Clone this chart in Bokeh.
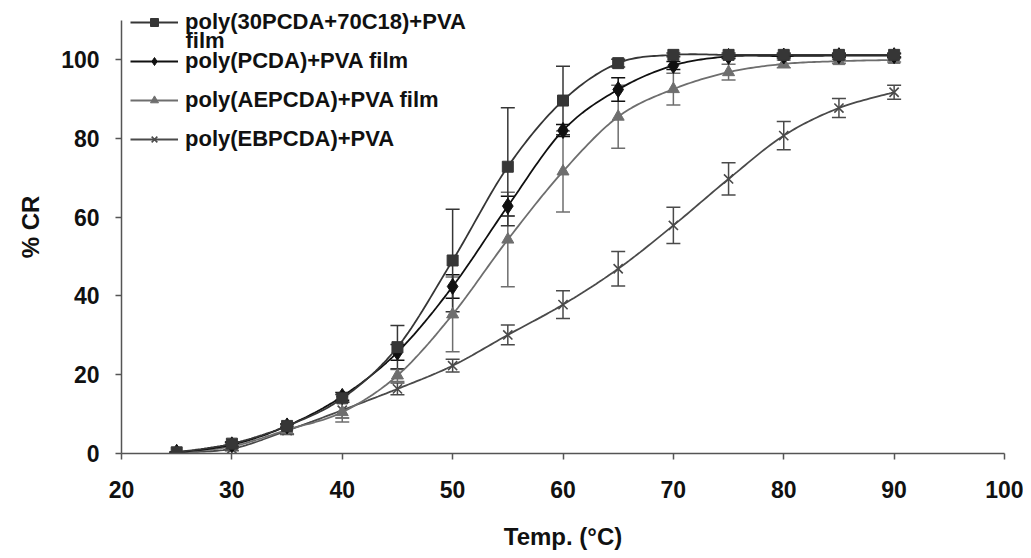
from bokeh.plotting import figure
from bokeh.models import (Range1d, FixedTicker, ColumnDataSource, Whisker, TeeHead,
                          Legend, LegendItem, Label)
from bokeh.embed import file_html
from bokeh.resources import INLINE

# ---------------- data ----------------
temp = [25, 30, 35, 40, 45, 50, 55, 60, 65, 70, 75, 80, 85, 90]

s1_name = "poly(30PCDA+70C18)+PVA"
s1_name2 = "film"
s1_y = [0.3, 2.5, 7.0, 14.0, 27.0, 49.0, 72.8, 89.6, 99.1, 101.2, 101.2, 101.2, 101.2, 101.2]
s1_err = [0.0, 0.5, 0.5, 1.0, 5.5, 13.0, 15.0, 8.7, 1.0, 0.5, 0.5, 0.5, 0.5, 0.5]

s2_name = "poly(PCDA)+PVA film"
s2_y = [0.3, 2.2, 7.0, 14.5, 25.7, 42.4, 62.8, 82.0, 92.4, 98.5, 100.8, 100.9, 101.0, 101.0]
s2_err = [0.0, 0.5, 0.5, 1.0, 2.0, 3.0, 2.5, 1.5, 3.0, 1.0, 0.5, 0.5, 0.5, 0.5]

s3_name = "poly(AEPCDA)+PVA film"
s3_y = [0.3, 1.8, 6.0, 10.5, 19.8, 35.3, 54.3, 71.6, 85.5, 92.5, 96.8, 98.9, 99.6, 99.9]
s3_err = [0.0, 0.5, 1.0, 2.5, 1.5, 9.5, 12.0, 10.3, 8.0, 4.0, 2.0, 1.0, 0.5, 0.5]

s4_name = "poly(EBPCDA)+PVA"
s4_y = [0.3, 1.2, 5.8, 11.0, 16.4, 22.3, 30.1, 37.8, 46.9, 57.9, 69.7, 80.7, 87.7, 91.7]
s4_err = [0.0, 0.5, 1.0, 2.0, 1.5, 1.6, 2.5, 3.5, 4.4, 4.6, 4.1, 3.6, 2.4, 1.8]

x_ticks = [20, 30, 40, 50, 60, 70, 80, 90, 100]
y_ticks = [0, 20, 40, 60, 80, 100]

x_label = "Temp. (°C)"
y_label = "% CR"


def smooth(xs, ys, n=20):
    """Catmull-Rom spline through the points (like Excel's smoothed line)."""
    px = [xs[0]] + list(xs) + [xs[-1]]
    py = [ys[0]] + list(ys) + [ys[-1]]
    ox, oy = [], []
    for i in range(1, len(px) - 2):
        x0, x1, x2, x3 = px[i - 1], px[i], px[i + 1], px[i + 2]
        y0, y1, y2, y3 = py[i - 1], py[i], py[i + 1], py[i + 2]
        for k in range(n):
            t = k / n
            t2, t3 = t * t, t * t * t
            ox.append(0.5 * ((2 * x1) + (-x0 + x2) * t + (2 * x0 - 5 * x1 + 4 * x2 - x3) * t2 + (-x0 + 3 * x1 - 3 * x2 + x3) * t3))
            oy.append(0.5 * ((2 * y1) + (-y0 + y2) * t + (2 * y0 - 5 * y1 + 4 * y2 - y3) * t2 + (-y0 + 3 * y1 - 3 * y2 + y3) * t3))
    ox.append(xs[-1])
    oy.append(ys[-1])
    return ox, oy


FONT = "Liberation Sans"

p = figure(width=1023, height=556, output_backend="svg", toolbar_location=None,
           x_range=Range1d(20, 100), y_range=Range1d(0, 115),
           min_border_left=121, min_border_right=19, min_border_top=0, min_border_bottom=103)
p.outline_line_color = None
p.xgrid.grid_line_color = None
p.ygrid.grid_line_color = None
p.background_fill_color = "white"

for ax in (p.xaxis[0], p.yaxis[0]):
    ax.axis_line_color = "#555555"
    ax.axis_line_width = 1.5
    ax.major_tick_line_color = "#555555"
    ax.major_tick_line_width = 1.5
    ax.major_tick_in = 0
    ax.major_tick_out = 6
    ax.minor_tick_line_color = None
    ax.major_label_text_font = FONT
    ax.major_label_text_font_style = "bold"
    ax.major_label_text_font_size = "23px"
    ax.major_label_text_color = "#111111"
    ax.axis_label_text_font = FONT
    ax.axis_label_text_font_style = "bold"
    ax.axis_label_text_color = "#111111"

p.yaxis[0].bounds = (0, 110)
p.xaxis[0].axis_label_text_font_size = "24px"
p.yaxis[0].axis_label_text_font_size = "24px"
p.xaxis[0].ticker = FixedTicker(ticks=x_ticks)
p.yaxis[0].ticker = FixedTicker(ticks=y_ticks)
p.xaxis[0].axis_label = x_label
p.yaxis[0].axis_label = y_label
p.xaxis[0].major_label_standoff = 21
p.yaxis[0].major_label_standoff = 16
p.xaxis[0].axis_label_standoff = 22
p.yaxis[0].axis_label_standoff = 14

series = [
    dict(y=s1_y, err=s1_err, color="#363636", marker="square", size=11, name=s1_name),
    dict(y=s2_y, err=s2_err, color="#101010", marker="diamond", size=16, name=s2_name),
    dict(y=s3_y, err=s3_err, color="#6e6e6e", marker="triangle", size=12, name=s3_name),
    dict(y=s4_y, err=s4_err, color="#4a4a4a", marker="x", size=13, name=s4_name),
]

for s in reversed(series):
    src = ColumnDataSource(dict(x=temp, y=s["y"],
                                upper=[v + e for v, e in zip(s["y"], s["err"])],
                                lower=[v - e for v, e in zip(s["y"], s["err"])]))
    w = Whisker(source=src, base="x", upper="upper", lower="lower", dimension="height",
                line_color=s["color"], line_width=1.5,
                upper_head=TeeHead(size=14, line_color=s["color"], line_width=1.5),
                lower_head=TeeHead(size=14, line_color=s["color"], line_width=1.5))
    p.add_layout(w)
    sx, sy = smooth(temp, s["y"])
    ln = p.line(sx, sy, line_color=s["color"], line_width=1.8)
    if s["marker"] == "x":
        sc = p.scatter("x", "y", source=src, marker="x", size=s["size"],
                       line_color=s["color"], line_width=1.6)
    else:
        sc = p.scatter("x", "y", source=src, marker=s["marker"], size=s["size"],
                       fill_color=s["color"], line_color=s["color"], line_width=1)
    s["renderers"] = [ln, sc]

items = [LegendItem(label=s["name"], renderers=s["renderers"]) for s in series]

legend = Legend(items=items, location=(9, 301), orientation="vertical",
                background_fill_alpha=0, border_line_color=None,
                padding=0, margin=0, spacing=13,
                glyph_width=48, glyph_height=20, label_height=20, label_standoff=7,
                label_text_font=FONT, label_text_font_style="bold",
                label_text_font_size="22px", label_text_color="#111111")
p.add_layout(legend)

film = Label(x=64, y=413, x_units="screen", y_units="screen", text=s1_name2,
             text_font=FONT, text_font_style="bold", text_font_size="22px",
             text_color="#111111", text_baseline="middle")
p.add_layout(film)

open("out.html", "w").write(file_html(p, INLINE))
